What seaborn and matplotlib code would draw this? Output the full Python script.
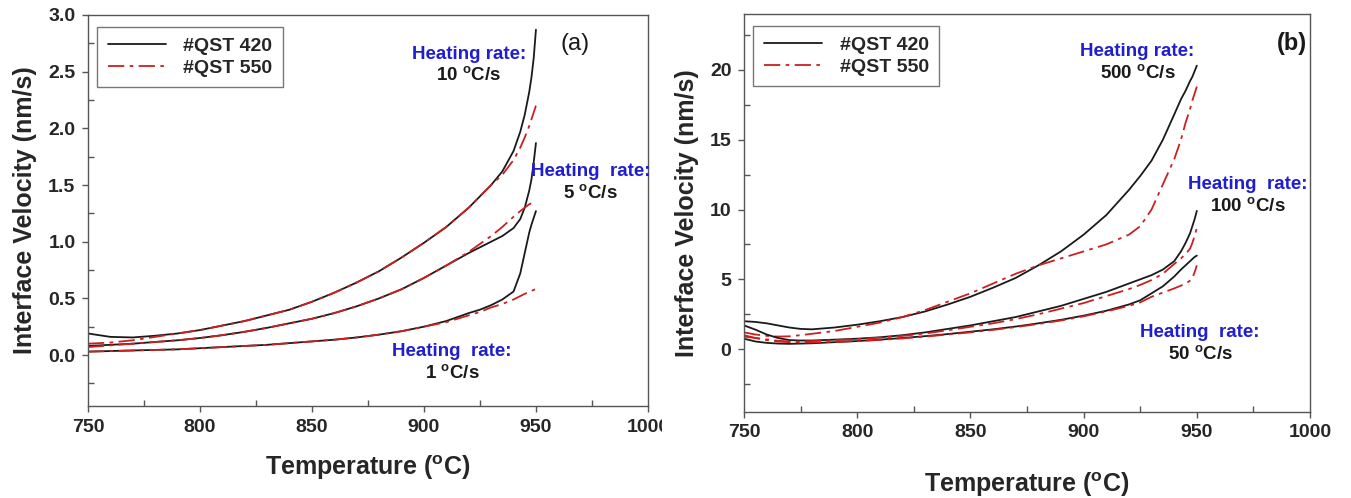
import matplotlib
matplotlib.use("Agg")
import matplotlib.pyplot as plt
import seaborn as sns
import numpy as np
from matplotlib.ticker import MultipleLocator, FormatStrFormatter
from matplotlib.transforms import Bbox

sns.set_theme(style="white")
plt.rcParams['font.family'] = ['Liberation Sans', 'DejaVu Sans']
plt.rcParams['mathtext.fontset'] = 'custom'
plt.rcParams['mathtext.rm'] = 'Liberation Sans'
plt.rcParams['mathtext.bf'] = 'Liberation Sans:bold'

# ---------------- data: panel (a) ----------------
temp_a = [750, 760, 770, 780, 790, 800, 810, 820, 830, 840, 850, 860, 870, 880, 890,
          900, 910, 920, 925, 930, 935, 940, 943, 945, 947, 948, 949, 950]
a10_qst420 = [0.19, 0.16, 0.155, 0.17, 0.19, 0.22, 0.26, 0.30, 0.35, 0.40, 0.47, 0.55, 0.64, 0.74, 0.86,
              0.99, 1.13, 1.30, 1.40, 1.50, 1.62, 1.80, 1.97, 2.12, 2.32, 2.45, 2.62, 2.87]
a10_qst550 = [0.10, 0.11, 0.13, 0.16, 0.19, 0.22, 0.26, 0.30, 0.35, 0.40, 0.47, 0.55, 0.64, 0.74, 0.86,
              0.99, 1.13, 1.30, 1.40, 1.50, 1.59, 1.72, 1.83, 1.92, 2.02, 2.08, 2.14, 2.20]
a5_qst420 = [0.08, 0.09, 0.10, 0.115, 0.13, 0.15, 0.175, 0.205, 0.24, 0.28, 0.32, 0.37, 0.43, 0.50, 0.58,
             0.68, 0.79, 0.90, 0.95, 1.00, 1.05, 1.12, 1.20, 1.30, 1.45, 1.55, 1.70, 1.87]
a5_qst550 = [0.07, 0.085, 0.10, 0.115, 0.13, 0.15, 0.175, 0.205, 0.24, 0.28, 0.32, 0.37, 0.43, 0.50, 0.58,
             0.68, 0.79, 0.91, 0.98, 1.05, 1.13, 1.22, 1.27, 1.30, 1.33, 1.34, 1.35, 1.36]
a1_qst420 = [0.03, 0.035, 0.04, 0.045, 0.05, 0.06, 0.07, 0.08, 0.09, 0.105, 0.12, 0.135, 0.155, 0.18, 0.21,
             0.25, 0.30, 0.37, 0.40, 0.44, 0.49, 0.56, 0.72, 0.90, 1.08, 1.15, 1.21, 1.27]
a1_qst550 = [0.03, 0.035, 0.04, 0.045, 0.05, 0.06, 0.07, 0.08, 0.09, 0.105, 0.12, 0.135, 0.155, 0.18, 0.21,
             0.25, 0.29, 0.35, 0.38, 0.42, 0.45, 0.49, 0.52, 0.54, 0.555, 0.565, 0.575, 0.58]

# ---------------- data: panel (b) ----------------
temp_b = [750, 755, 760, 765, 770, 775, 780, 790, 800, 810, 820, 830, 840, 850, 860, 870, 880, 890,
          900, 910, 920, 925, 930, 935, 940, 943, 945, 947, 948, 949, 950]
b500_qst420 = [2.0, 1.95, 1.85, 1.7, 1.55, 1.45, 1.42, 1.55, 1.75, 2.0, 2.3, 2.7, 3.2, 3.75, 4.4, 5.1, 6.0, 7.0,
               8.2, 9.6, 11.4, 12.4, 13.5, 15.0, 16.8, 17.9, 18.5, 19.2, 19.5, 19.9, 20.3]
b500_qst550 = [1.2, 1.05, 0.95, 0.9, 0.92, 1.0, 1.1, 1.3, 1.6, 1.9, 2.3, 2.8, 3.4, 4.0, 4.7, 5.4, 6.0, 6.5,
               7.0, 7.5, 8.2, 8.8, 10.0, 11.8, 13.6, 15.0, 16.2, 17.2, 17.8, 18.3, 18.8]
b100_qst420 = [1.7, 1.4, 1.05, 0.8, 0.65, 0.62, 0.62, 0.68, 0.75, 0.85, 1.0, 1.2, 1.45, 1.7, 2.0, 2.3, 2.7, 3.1,
               3.6, 4.1, 4.7, 5.0, 5.3, 5.7, 6.3, 7.0, 7.6, 8.3, 8.8, 9.3, 9.9]
b100_qst550 = [0.9, 0.8, 0.7, 0.6, 0.55, 0.55, 0.58, 0.64, 0.72, 0.82, 0.95, 1.12, 1.35, 1.6, 1.85, 2.15, 2.5, 2.9,
               3.3, 3.8, 4.3, 4.6, 4.95, 5.4, 6.1, 6.5, 6.8, 7.2, 7.6, 8.1, 8.7]
b50_qst420 = [0.75, 0.55, 0.45, 0.4, 0.38, 0.4, 0.42, 0.5, 0.58, 0.68, 0.8, 0.93, 1.08, 1.25, 1.42, 1.62, 1.85, 2.1,
              2.4, 2.75, 3.2, 3.5, 4.0, 4.5, 5.2, 5.7, 6.0, 6.3, 6.45, 6.6, 6.7]
b50_qst550 = [1.0, 0.8, 0.65, 0.55, 0.5, 0.48, 0.48, 0.52, 0.58, 0.66, 0.77, 0.9, 1.05, 1.2, 1.38, 1.58, 1.8, 2.05,
              2.35, 2.7, 3.1, 3.35, 3.75, 4.05, 4.35, 4.55, 4.7, 4.9, 5.1, 5.5, 6.0]

series_names = ["#QST 420", "#QST 550"]
x_ticks = [750, 800, 850, 900, 950, 1000]
y_ticks_a = [0.0, 0.5, 1.0, 1.5, 2.0, 2.5, 3.0]
y_ticks_b = [0, 5, 10, 15, 20]

BLACK = "#1a1a1a"
RED = "#cc2020"
BLUE = "#1f1fd0"
SPINE = "#555555"
DASHDOT = (0, (9, 3, 2, 3))

fig = plt.figure(figsize=(13.51, 4.98), dpi=100)
ax1 = fig.add_axes([0.0651, 0.1847, 0.4145, 0.7852])
ax2 = fig.add_axes([0.5507, 0.1727, 0.4190, 0.7992])


def draw(ax, x, y, red):
    if red:
        sns.lineplot(x=x, y=y, ax=ax, color=RED, lw=1.3, sort=False, estimator=None,
                     linestyle=DASHDOT)
    else:
        sns.lineplot(x=x, y=y, ax=ax, color=BLACK, lw=1.3, sort=False, estimator=None)


for s420, s550 in [(a10_qst420, a10_qst550), (a5_qst420, a5_qst550), (a1_qst420, a1_qst550)]:
    draw(ax1, temp_a, s420, False)
    draw(ax1, temp_a, s550, True)
for s420, s550 in [(b500_qst420, b500_qst550), (b100_qst420, b100_qst550), (b50_qst420, b50_qst550)]:
    draw(ax2, temp_b, s420, False)
    draw(ax2, temp_b, s550, True)


def style(ax, ylim, yticks, ymin, xpad):
    ax.set_xlim(750, 1000)
    ax.set_ylim(*ylim)
    ax.set_xticks(x_ticks)
    ax.xaxis.set_minor_locator(MultipleLocator(25))
    ax.set_yticks(yticks)
    ax.yaxis.set_minor_locator(MultipleLocator(ymin))
    ax.tick_params(axis='both', which='major', direction='out', length=4, width=1,
                   color=SPINE, labelsize=14, pad=5, bottom=True, left=True)
    ax.tick_params(axis='both', which='minor', direction='in', length=4, width=1,
                   color=SPINE, bottom=True, left=True)
    for sp in ax.spines.values():
        sp.set_visible(True)
        sp.set_color(SPINE)
        sp.set_linewidth(1.0)
    ax.set_xlabel(r"Temperature ($^{\mathbf{o}}$C)", fontsize=18, fontweight='bold', labelpad=xpad)
    ax.set_ylabel("Interface Velocity (nm/s)", fontsize=18, fontweight='bold', labelpad=8)
    leg_handles = [plt.Line2D([], [], color=BLACK, lw=1.3),
                   plt.Line2D([], [], color=RED, lw=1.3, linestyle=DASHDOT)]
    leg = ax.legend(leg_handles, series_names, loc='upper left', bbox_to_anchor=(0.016, 0.97),
                    frameon=True, fancybox=False, handlelength=3.0, handletextpad=0.9,
                    borderpad=0.55, labelspacing=0.2, borderaxespad=0.0,
                    prop={'weight': 'bold', 'size': 14})
    leg.get_frame().set_edgecolor(SPINE)
    leg.get_frame().set_linewidth(1.0)


style(ax1, (-0.45, 3.0), y_ticks_a, 0.25, 13)
style(ax2, (-4.5, 24), y_ticks_b, 2.5, 21)
ax1.yaxis.set_major_formatter(FormatStrFormatter('%.1f'))
ax2.yaxis.set_major_formatter(FormatStrFormatter('%d'))
for ax in (ax1, ax2):
    for lab in ax.get_xticklabels() + ax.get_yticklabels():
        lab.set_fontweight('bold')

# the reference image crops the last tick label of panel (a)
clip = Bbox.from_extents(0, 0, 662, 498)
last = ax1.xaxis.get_major_ticks()[-1].label1
last.set_clip_on(True)
last.set_clip_box(clip)


def note(ax, x, y, top, bottom):
    ax.text(x, y, top, color=BLUE, fontsize=13.5, fontweight='bold', ha='center', va='center',
            transform=ax.transAxes)
    ax.text(x, y - 0.056, bottom, color=BLACK, fontsize=13.5, fontweight='bold', ha='center',
            va='center', transform=ax.transAxes)


note(ax1, 0.680, 0.900, "Heating rate:", r"10 $^{\mathbf{o}}$C/s")
note(ax1, 0.898, 0.600, "Heating  rate:", r"5 $^{\mathbf{o}}$C/s")
note(ax1, 0.650, 0.140, "Heating  rate:", r"1 $^{\mathbf{o}}$C/s")
ax1.text(0.870, 0.925, "(a)", fontsize=17, ha='center', va='center', transform=ax1.transAxes,
         color=BLACK)

note(ax2, 0.695, 0.905, "Heating rate:", r"500 $^{\mathbf{o}}$C/s")
note(ax2, 0.890, 0.572, "Heating  rate:", r"100 $^{\mathbf{o}}$C/s")
note(ax2, 0.806, 0.200, "Heating  rate:", r"50 $^{\mathbf{o}}$C/s")
ax2.text(0.968, 0.925, "(b)", fontsize=17, fontweight='bold', ha='center', va='center',
         transform=ax2.transAxes, color=BLACK)

fig.savefig("out.png", dpi=100)
